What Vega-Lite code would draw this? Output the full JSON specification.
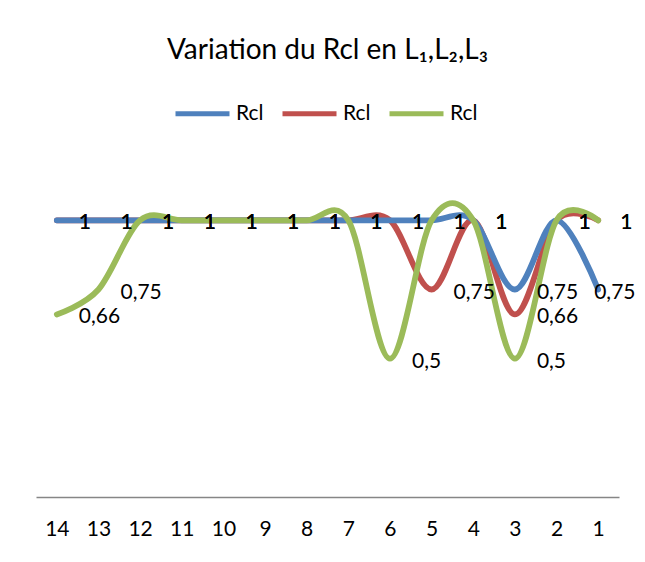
{
  "$schema": "https://vega.github.io/schema/vega-lite/v6.json",
  "width": 583,
  "height": 332,
  "autosize": {"type": "none"},
  "padding": {"left": 36, "top": 165, "right": 26, "bottom": 65},
  "background": "white",
  "config": {
    "font": "Lato",
    "view": {"stroke": null},
    "locale": {"number": {"decimal": ",", "thousands": " ", "grouping": [3], "currency": ["", " €"]}}
  },
  "title": {"text": "Variation du Rcl en L₁,L₂,L₃", "fontSize": 28, "fontWeight": "normal", "color": "black", "anchor": "middle", "frame": "group", "offset": 19},
  "data": {"values": [
    {"x": 14, "s": "b", "v": 1}, {"x": 13, "s": "b", "v": 1}, {"x": 12, "s": "b", "v": 1}, {"x": 11, "s": "b", "v": 1}, {"x": 10, "s": "b", "v": 1}, {"x": 9, "s": "b", "v": 1}, {"x": 8, "s": "b", "v": 1}, {"x": 7, "s": "b", "v": 1}, {"x": 6, "s": "b", "v": 1}, {"x": 5, "s": "b", "v": 0.75}, {"x": 4, "s": "b", "v": 1}, {"x": 3, "s": "b", "v": 0.66}, {"x": 2, "s": "b", "v": 1}, {"x": 1, "s": "b", "v": 1},
    {"x": 14, "s": "a", "v": 1}, {"x": 13, "s": "a", "v": 1}, {"x": 12, "s": "a", "v": 1}, {"x": 11, "s": "a", "v": 1}, {"x": 10, "s": "a", "v": 1}, {"x": 9, "s": "a", "v": 1}, {"x": 8, "s": "a", "v": 1}, {"x": 7, "s": "a", "v": 1}, {"x": 6, "s": "a", "v": 1}, {"x": 5, "s": "a", "v": 1}, {"x": 4, "s": "a", "v": 1}, {"x": 3, "s": "a", "v": 0.75}, {"x": 2, "s": "a", "v": 1}, {"x": 1, "s": "a", "v": 0.75},
    {"x": 14, "s": "c", "v": 0.66}, {"x": 13, "s": "c", "v": 0.75}, {"x": 12, "s": "c", "v": 1}, {"x": 11, "s": "c", "v": 1}, {"x": 10, "s": "c", "v": 1}, {"x": 9, "s": "c", "v": 1}, {"x": 8, "s": "c", "v": 1}, {"x": 7, "s": "c", "v": 1}, {"x": 6, "s": "c", "v": 0.5}, {"x": 5, "s": "c", "v": 1}, {"x": 4, "s": "c", "v": 1}, {"x": 3, "s": "c", "v": 0.5}, {"x": 2, "s": "c", "v": 1}, {"x": 1, "s": "c", "v": 1}
  ]},
  "encoding": {
    "x": {"field": "x", "type": "ordinal", "sort": "descending",
      "axis": {"title": null, "labelAngle": 0, "ticks": false, "domainColor": "#868686", "domainWidth": 1.5, "labelFontSize": 21, "labelColor": "black", "labelPadding": 21}},
    "y": {"field": "v", "type": "quantitative", "scale": {"domain": [0, 1.2], "nice": false, "zero": true}, "axis": null}
  },
  "layer": [
    {
      "mark": {"type": "line", "interpolate": "cardinal", "strokeWidth": 5.8, "strokeCap": "round", "strokeJoin": "round"},
      "encoding": {
        "color": {"field": "s", "type": "nominal",
          "scale": {"domain": ["a", "b", "c"], "range": ["#4F81BD", "#C0504D", "#9BBB59"]},
          "legend": {"title": null, "orient": "none", "legendX": 137, "legendY": -81, "direction": "horizontal", "labelExpr": "'Rcl'", "symbolType": "stroke", "symbolSize": 2916, "symbolStrokeWidth": 5, "labelFontSize": 21, "labelColor": "black", "labelOffset": 4, "columnPadding": 8}}
      }
    },
    {
      "transform": [{"filter": "!(datum.s == 'a' && datum.x == 1)"}],
      "mark": {"type": "text", "align": "left", "baseline": "middle", "dx": 22, "dy": 3, "fontSize": 21, "color": "black"},
      "encoding": {"text": {"field": "v", "type": "quantitative", "format": "~g"}}
    },
    {
      "transform": [{"filter": "datum.s == 'a' && datum.x == 1"}],
      "mark": {"type": "text", "align": "left", "baseline": "middle", "dx": -4, "dy": 3, "fontSize": 21, "color": "black"},
      "encoding": {"text": {"field": "v", "type": "quantitative", "format": "~g"}}
    }
  ]
}
